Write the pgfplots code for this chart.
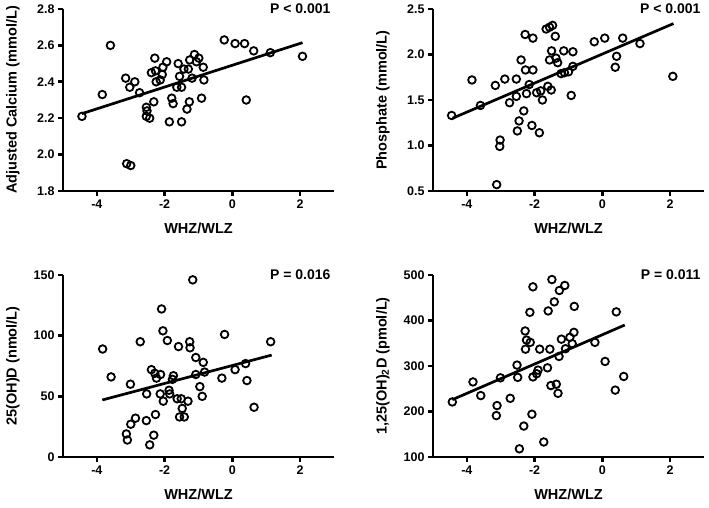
\documentclass[border=0pt]{standalone}
\usepackage{fontspec}
\setmainfont{Liberation Sans}
\usepackage{pgfplots}
\pgfplotsset{compat=1.18}

\pgfplotsset{
  prism/.style={
    scale only axis, width=271pt, height=182pt,
    anchor=south west,
    axis lines=left,
    axis line style={draw=none},
    xmin=-5, xmax=3,
    xtick={-4,-2,0,2},
    tick align=outside,
    major tick length=5pt,
    tick style={line width=2.6pt, black},
    /pgf/number format/assume math mode=true,
    tick label style={font=\fontsize{12.5}{14}\selectfont\bfseries},
    label style={font=\fontsize{14.5}{17}\selectfont\bfseries},
    xlabel={WHZ/WLZ},
    xlabel style={at={(axis description cs:0.5,-0.205)}, anchor=center},
    ylabel style={at={(axis description cs:-0.185,0.5)}, anchor=center, rotate=0},
    clip=false,
    after end axis/.code={
      \draw[line width=2.6pt, black] (rel axis cs:0,1) -- (rel axis cs:0,0) -- (rel axis cs:1,0);
    },
  },
  dots/.style={only marks, mark=o, mark size=3.8pt, mark options={line width=1.8pt, black}},
  regline/.style={no marks, black, line width=2.7pt},
}
\tikzset{ptext/.style={font=\fontsize{14}{16}\selectfont\bfseries, anchor=east}}

\begin{document}
\begin{tikzpicture}
\useasboundingbox (0,0) rectangle (709pt,508pt);

% top left: adjusted calcium
\begin{axis}[prism, at={(63pt,317pt)},
  ymin=1.8, ymax=2.8, ytick={1.8,2.0,...,2.8},
  y tick label style={/pgf/number format/.cd, fixed, fixed zerofill, precision=1},
  ylabel={Adjusted Calcium (mmol/L)}]
\addplot[dots] coordinates {
 (-4.44,2.21) (-3.60,2.60) (-3.84,2.33) (-3.15,2.42) (-3.03,2.37) (-2.88,2.40) (-2.74,2.34)
 (-3.12,1.95) (-3.00,1.94) (-2.54,2.26) (-2.52,2.24) (-2.54,2.21) (-2.44,2.20) (-2.32,2.29)
 (-2.29,2.53) (-2.39,2.45) (-2.27,2.46) (-2.25,2.40) (-2.13,2.41) (-2.07,2.44) (-2.05,2.48)
 (-1.94,2.51) (-1.86,2.18) (-1.79,2.31) (-1.75,2.28) (-1.60,2.50) (-1.56,2.43) (-1.64,2.37)
 (-1.50,2.37) (-1.50,2.18) (-1.43,2.47) (-1.30,2.47) (-1.26,2.52) (-1.12,2.55) (-1.06,2.51)
 (-1.34,2.25) (-1.27,2.29) (-1.19,2.42) (-0.99,2.53) (-0.86,2.48) (-0.84,2.41) (-0.91,2.31)
 (-0.24,2.63) (0.08,2.61) (0.36,2.61) (0.63,2.57) (1.12,2.56) (2.07,2.54) (0.41,2.30)
};
\addplot[regline] coordinates {(-4.44,2.225) (2.07,2.615)};
\node[ptext] at (rel axis cs:1,1) {P < 0.001};
\end{axis}

% top right: phosphate
\begin{axis}[prism, at={(433pt,317pt)},
  ymin=0.5, ymax=2.5, ytick={0.5,1.0,...,2.5},
  y tick label style={/pgf/number format/.cd, fixed, fixed zerofill, precision=1},
  ylabel={Phosphate (mmol/L)}]
\addplot[dots] coordinates {
 (-4.45,1.33) (-3.85,1.72) (-3.60,1.44) (-3.16,1.66) (-2.88,1.73) (-2.74,1.47) (-3.02,1.06)
 (-3.03,0.99) (-3.12,0.57) (-2.54,1.73) (-2.54,1.54) (-2.40,1.94) (-2.32,1.38) (-2.46,1.27)
 (-2.51,1.16) (-2.28,2.22) (-2.05,2.18) (-2.27,1.83) (-2.05,1.83) (-2.16,1.67) (-2.24,1.57)
 (-2.08,1.22) (-1.86,1.14) (-1.94,1.58) (-1.82,1.60) (-1.77,1.50) (-1.61,1.65) (-1.51,1.61)
 (-1.66,2.28) (-1.56,2.30) (-1.47,2.32) (-1.39,2.20) (-1.50,2.04) (-1.56,1.94) (-1.37,1.96)
 (-1.32,1.91) (-1.14,2.04) (-0.87,2.03) (-0.87,1.87) (-1.22,1.79) (-1.12,1.80) (-1.00,1.81)
 (-0.92,1.55) (-0.24,2.14) (0.07,2.18) (0.60,2.18) (1.11,2.12) (0.42,1.98) (0.38,1.86)
 (2.08,1.76)
};
\addplot[regline] coordinates {(-4.42,1.30) (2.10,2.34)};
\node[ptext] at (rel axis cs:1,1) {P < 0.001};
\end{axis}

% bottom left: 25(OH)D
\begin{axis}[prism, at={(63pt,51pt)},
  ymin=0, ymax=150, ytick={0,50,100,150},
  ylabel={25(OH)D (nmol/L)}]
\addplot[dots] coordinates {
 (-3.83,89) (-3.58,66) (-3.01,60) (-2.72,95) (-3.13,19) (-3.10,14) (-3.00,27) (-2.86,32)
 (-2.54,30) (-2.44,10) (-2.32,18) (-2.27,35) (-2.53,52) (-2.39,72) (-2.29,69) (-2.24,65)
 (-2.12,68) (-2.13,52) (-2.04,46) (-2.09,122) (-2.05,104) (-1.92,96) (-1.87,55) (-1.85,52)
 (-1.77,64) (-1.74,67) (-1.59,91) (-1.63,48) (-1.51,48) (-1.48,40) (-1.56,33) (-1.42,33)
 (-1.31,46) (-1.26,95) (-1.25,90) (-1.17,146) (-1.08,82) (-1.08,68) (-0.96,58) (-0.89,50)
 (-0.86,78) (-0.82,70) (-0.23,101) (-0.31,65) (0.08,72) (0.39,77) (0.43,63) (0.64,41)
 (1.13,95)
};
\addplot[regline] coordinates {(-3.84,47) (1.16,84)};
\node[ptext] at (rel axis cs:1,1) {P = 0.016};
\end{axis}

% bottom right: 1,25(OH)2D
\begin{axis}[prism, at={(433pt,51pt)},
  ymin=100, ymax=500, ytick={100,200,...,500},
  ylabel={1,25(OH)\textsubscript{2}D (pmol/L)}]
\addplot[dots] coordinates {
 (-4.43,221) (-3.82,265) (-3.59,235) (-3.11,213) (-3.13,191) (-3.01,274) (-2.72,229)
 (-2.52,302) (-2.50,275) (-2.45,118) (-2.32,168) (-2.28,377) (-2.24,357) (-2.27,337)
 (-2.13,352) (-2.14,418) (-2.05,474) (-2.08,194) (-2.05,276) (-1.94,283) (-1.90,291)
 (-1.85,337) (-1.73,133) (-1.60,421) (-1.62,296) (-1.55,337) (-1.49,490) (-1.42,441)
 (-1.27,466) (-1.11,477) (-1.52,257) (-1.36,260) (-1.31,240) (-1.28,321) (-1.21,359)
 (-0.96,363) (-0.84,374) (-0.89,349) (-1.09,338) (-0.83,431) (-0.22,352) (0.08,310)
 (0.41,419) (0.63,277) (0.38,247)
};
\addplot[regline] coordinates {(-4.43,226) (0.66,390)};
\node[ptext] at (rel axis cs:1,1) {P = 0.011};
\end{axis}
\end{tikzpicture}
\end{document}
